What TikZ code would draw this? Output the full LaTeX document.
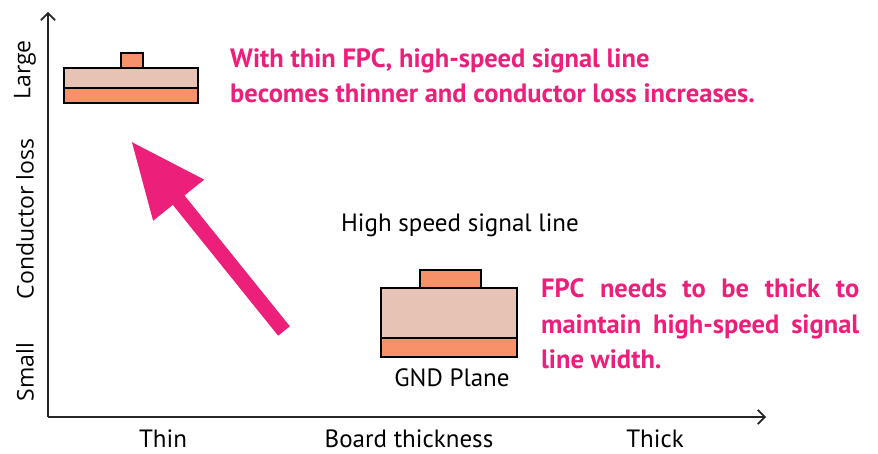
\documentclass[tikz,border=0pt]{standalone}
\usepackage{fontspec}
\setmainfont{PT Sans}
\newfontfamily\axisfont{Open Sans}
\usepackage{xcolor}
\usetikzlibrary{
    arrows.meta,
    positioning,
    calc
}
\definecolor{notepink}{HTML}{EC1F7A}
\definecolor{copperorange}{HTML}{F79169}
\definecolor{dielectric}{HTML}{E6C3B4}
\tikzset{
    axis/.style={
        -{Straight Barb[length=2.5mm]},
        line width=1.6pt,
        draw=black!85
    },
    layer/.style={
        draw=black,
        line width=1.3pt
    },
    axislabel/.style={
        font=\axisfont\fontsize{23}{26}\selectfont,
        rotate=90,
        inner sep=0pt
    },
    ticklabel/.style={
        font=\fontsize{25}{28}\selectfont,
        inner sep=0pt
    },
    note/.style={
        text=notepink,
        font=\bfseries\fontsize{26.5}{35.5}\selectfont,
        inner sep=0pt,
        anchor=base west
    },
    bigarrow/.style={
        -{Triangle[length=76pt,width=61pt]},
        line width=15pt,
        draw=notepink,
        fill=notepink
    }
}

\begin{document}
\begin{tikzpicture}[x=1pt, y=-1pt]
\useasboundingbox (0,0) rectangle (878,454);

% axes
\coordinate (origin) at (48,417);
\coordinate (ytop) at (48,12);
\coordinate (xend) at (766,417);
\draw[axis] (origin) -- (ytop);
\draw[axis] (origin) -- (xend);

\node[axislabel] (large) at (25,70) {Large};
\node[axislabel] (loss) at (25,219) {Conductor loss};
\node[axislabel] (small) at (25,372) {Small};

\node[ticklabel] (thin) at (163,439) {Thin};
\node[ticklabel] (board) at (409,439) {Board thickness};
\node[ticklabel] (thick) at (655,439) {Thick};

% thin board
\filldraw[layer, fill=dielectric] (64,68) rectangle (198,88);
\filldraw[layer, fill=copperorange] (64,88) rectangle (198,103);
\filldraw[layer, fill=copperorange] (121,53) rectangle (143,68);

% thick board
\filldraw[layer, fill=dielectric] (381,288) rectangle (517,338);
\filldraw[layer, fill=copperorange] (381,338) rectangle (517,357);
\filldraw[layer, fill=copperorange] (420,270) rectangle (481,288);

\node[ticklabel] (signal) at (460,225) {High speed signal line};
\node[ticklabel] (gnd) at (452,378) {GND Plane};

% trend arrow
\coordinate (tail) at (284,331);
\coordinate (tip) at (131,141);
\draw[bigarrow] (tail) -- (tip);

\node[note, align=left] (thinnote) at (230,103) {With thin FPC, high-speed signal line\\becomes thinner and conductor loss increases.};
\node[note, text width=318pt, align=justify] (thicknote) at (541,298) {FPC needs to be thick to\linebreak maintain high-speed signal\linebreak line width.};

\end{tikzpicture}
\end{document}
